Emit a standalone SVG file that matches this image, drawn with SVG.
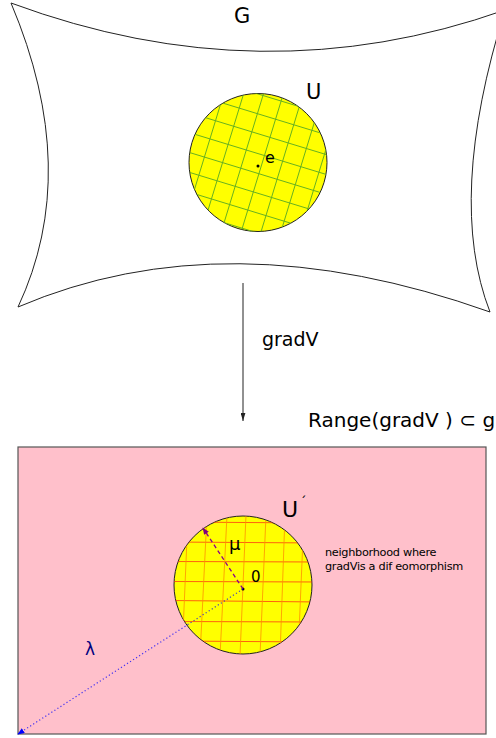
<svg xmlns="http://www.w3.org/2000/svg" width="496" height="738" viewBox="0 0 496 738">
<style>
text{font-family:"DejaVu Sans","Liberation Sans",sans-serif;fill:#000}
.outline{fill:none;stroke:#222;stroke-width:1}
.disk{fill:#ffff00;stroke:#222;stroke-width:1}
.gg line{stroke:#66b020;stroke-width:0.9}
.rh line{stroke:#ff3a10;stroke-width:0.8}
.rv line{stroke:#ff9000;stroke-width:0.8}
</style>
<defs>
<clipPath id="cU"><circle cx="258" cy="162.5" r="69"/></clipPath>
<clipPath id="cU2"><circle cx="243" cy="585" r="69"/></clipPath>
<marker id="ah" viewBox="0 0 10 6" refX="10" refY="3" markerWidth="8" markerHeight="5" orient="auto" markerUnits="userSpaceOnUse"><path d="M0,0 L10,3 L0,6 z" fill="#222"/></marker>
<marker id="ahP" viewBox="0 0 10 8" refX="9" refY="4" markerWidth="7" markerHeight="6" orient="auto" markerUnits="userSpaceOnUse"><path d="M0,0 L10,4 L0,8 z" fill="#800080"/></marker>
<marker id="ahB" viewBox="0 0 10 8" refX="9" refY="4" markerWidth="7" markerHeight="6" orient="auto" markerUnits="userSpaceOnUse"><path d="M0,0 L10,4 L0,8 z" fill="#0000ff"/></marker>
</defs>

<g id="G">
<path class="outline" d="M11,3 Q262,96 505,10 Q446,199 490,312 Q226,218 18,307 Q82,171 11,3 z" fill="#fff"/>
<text x="234" y="23" font-size="21">G</text>
</g>

<g id="U">
<circle class="disk" cx="258" cy="162.5" r="69"/>
<g clip-path="url(#cU)">
<g class="gg" transform="rotate(17 258 163)">
<line x1="170" y1="97" x2="350" y2="97"/>
<line x1="170" y1="116" x2="350" y2="116"/>
<line x1="170" y1="135" x2="350" y2="135"/>
<line x1="170" y1="154" x2="350" y2="154"/>
<line x1="170" y1="173" x2="350" y2="173"/>
<line x1="170" y1="192" x2="350" y2="192"/>
<line x1="170" y1="211" x2="350" y2="211"/>
<line x1="170" y1="230" x2="350" y2="230"/>
<line x1="186" y1="80" x2="186" y2="250"/>
<line x1="205" y1="80" x2="205" y2="250"/>
<line x1="224" y1="80" x2="224" y2="250"/>
<line x1="243" y1="80" x2="243" y2="250"/>
<line x1="262" y1="80" x2="262" y2="250"/>
<line x1="281" y1="80" x2="281" y2="250"/>
<line x1="300" y1="80" x2="300" y2="250"/>
<line x1="319" y1="80" x2="319" y2="250"/>
<line x1="338" y1="80" x2="338" y2="250"/>
</g>
</g>
<circle cx="258" cy="166" r="1.5" fill="#000"/>
<text x="265" y="163" font-size="16">e</text>
<text x="306" y="99" font-size="21">U</text>
</g>

<g id="connectors">
<line x1="243" y1="283" x2="243" y2="421" stroke="#222" stroke-width="1" marker-end="url(#ah)"/>
</g>
<text x="262" y="346" font-size="19">gradV</text>
<text x="308" y="427" font-size="20">Range(gradV ) ⊂ g</text>

<g id="Range">
<rect x="18" y="447" width="468" height="287" fill="#ffc0cb" stroke="#555" stroke-width="1.2"/>
<g id="Uprime">
<circle class="disk" cx="243" cy="585" r="69"/>
<g clip-path="url(#cU2)">
<g class="rh">
<line x1="170" y1="522" x2="320" y2="523"/>
<line x1="170" y1="542" x2="320" y2="543"/>
<line x1="170" y1="561.5" x2="320" y2="562"/>
<line x1="170" y1="581.5" x2="320" y2="582"/>
<line x1="170" y1="600.5" x2="320" y2="602"/>
<line x1="170" y1="621.5" x2="320" y2="622"/>
<line x1="170" y1="641" x2="320" y2="642"/>
</g>
<g class="rv">
<line x1="188" y1="515" x2="182" y2="656"/>
<line x1="207" y1="515" x2="200" y2="656"/>
<line x1="227" y1="515" x2="220" y2="656"/>
<line x1="246" y1="515" x2="240" y2="656"/>
<line x1="266" y1="515" x2="260" y2="656"/>
<line x1="285" y1="515" x2="280" y2="656"/>
<line x1="304" y1="515" x2="298" y2="656"/>
</g>
</g>
<circle cx="243" cy="589" r="1.5" fill="#000"/>
<text x="251" y="582" font-size="15">0</text>
<text x="282" y="517" font-size="22">U<tspan font-size="13" dx="2" dy="-11">´</tspan></text>
</g>
<line x1="243" y1="589" x2="203" y2="528" stroke="#8b008b" stroke-width="1.3" stroke-dasharray="4,3" marker-end="url(#ahP)"/>
<text x="229" y="550" font-size="18">μ</text>
<line x1="243" y1="589" x2="18" y2="734" stroke="#0000ff" stroke-width="1.2" stroke-dasharray="1.2,2.4" stroke-opacity="0.75" marker-end="url(#ahB)"/>
<text x="85" y="655" font-size="17" style="fill:#000080">λ</text>
<text font-size="11.3" letter-spacing="-0.3"><tspan x="325" y="556">neighborhood where</tspan><tspan x="325" y="570">gradVis a dif eomorphism</tspan></text>
</g>
</svg>
